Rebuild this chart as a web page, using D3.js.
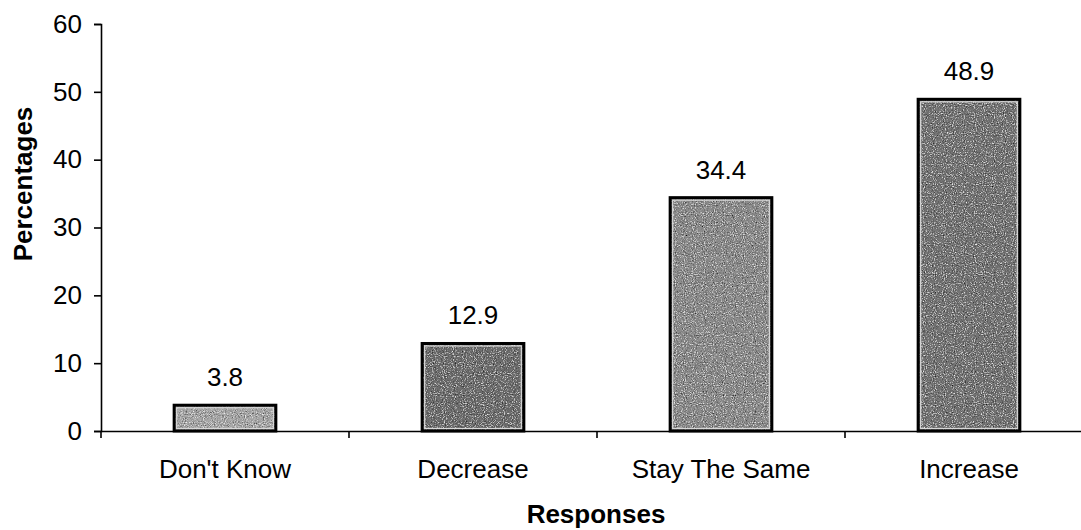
<!DOCTYPE html>
<html>
<head>
<meta charset="utf-8">
<script src="https://cdn.jsdelivr.net/npm/d3@7"></script>
<style>
  html, body { margin: 0; padding: 0; background: #fff; }
  svg { display: block; font-family: "Liberation Sans", Arial, sans-serif; }
</style>
</head>
<body>
<svg id="chart" width="1081" height="530"></svg>
<script>
// Survey responses (percent of respondents)
const categories = ["Don't Know", "Decrease", "Stay The Same", "Increase"];
const values = [3.8, 12.9, 34.4, 48.9];
const yTicks = [0, 10, 20, 30, 40, 50, 60];
const barTones = ["#a8a8a8", "#6e6e6e", "#8c8c8c", "#747474"];

const svg = d3.select("#chart");
const plotLeft = 101, plotRight = 1093, plotTop = 24, plotBottom = 431;
const fontSize = 26;

const x = d3.scaleBand().domain(categories).range([plotLeft, plotRight]).padding(0);
const y = d3.scaleLinear().domain([0, 60]).range([plotBottom, plotTop]);
const barW = x.bandwidth() * 0.41;

// grainy halftone fill used inside the bars: dark and light speckles
const defs = svg.append("defs");
const f = defs.append("filter").attr("id", "grain")
  .attr("x", 0).attr("y", 0).attr("width", 1).attr("height", 1);
f.append("feTurbulence").attr("type", "fractalNoise")
  .attr("baseFrequency", 0.9).attr("numOctaves", 2).attr("seed", 7).attr("result", "noise");
f.append("feColorMatrix").attr("in", "noise").attr("type", "matrix")
  .attr("values", "0 0 0 0 0  0 0 0 0 0  0 0 0 0 0  0 0 0 -2.4 1.2")
  .attr("result", "darkDots");
f.append("feColorMatrix").attr("in", "noise").attr("type", "matrix")
  .attr("values", "0 0 0 0 1  0 0 0 0 1  0 0 0 0 1  0 0 0 2.6 -1.45")
  .attr("result", "lightDots");
f.append("feMerge").attr("result", "dots").selectAll("feMergeNode")
  .data(["darkDots", "lightDots"]).join("feMergeNode").attr("in", d => d);
f.append("feComposite").attr("in", "dots").attr("in2", "SourceGraphic")
  .attr("operator", "in").attr("result", "dotsIn");
f.append("feMerge").selectAll("feMergeNode")
  .data(["SourceGraphic", "dotsIn"]).join("feMergeNode").attr("in", d => d);

// y axis
const yAxis = svg.append("g")
  .attr("transform", `translate(${plotLeft},0)`)
  .call(d3.axisLeft(y).tickValues(yTicks).tickSize(7).tickPadding(12).tickFormat(d3.format("d")));
yAxis.select(".domain").attr("stroke", "#000").attr("stroke-width", 1.6);
yAxis.selectAll(".tick line").attr("stroke", "#000").attr("stroke-width", 1.6);
yAxis.selectAll(".tick text").attr("font-size", fontSize).attr("fill", "#000")
  .attr("font-family", "Liberation Sans, Arial, sans-serif");

// bars
const barX = (d, i) => x(categories[i]) + (x.bandwidth() - barW) / 2;
const bars = svg.append("g");
bars.selectAll("rect.fill")
  .data(values)
  .join("rect")
  .attr("class", "fill")
  .attr("x", barX)
  .attr("y", d => y(d))
  .attr("width", barW)
  .attr("height", d => y(0) - y(d))
  .attr("fill", (d, i) => barTones[i])
  .attr("filter", "url(#grain)");
// pale inner rim just inside the outline
bars.selectAll("rect.rim")
  .data(values)
  .join("rect")
  .attr("class", "rim")
  .attr("x", (d, i) => barX(d, i) + 2.5)
  .attr("y", d => y(d) + 2.5)
  .attr("width", barW - 5)
  .attr("height", d => Math.max(0, y(0) - y(d) - 5))
  .attr("fill", "none")
  .attr("stroke", "#d8d8d8")
  .attr("stroke-width", 1.2);
bars.selectAll("rect.edge")
  .data(values)
  .join("rect")
  .attr("class", "edge")
  .attr("x", barX)
  .attr("y", d => y(d))
  .attr("width", barW)
  .attr("height", d => y(0) - y(d))
  .attr("fill", "none")
  .attr("stroke", "#000")
  .attr("stroke-width", 3);

// x axis
const xAxis = svg.append("g")
  .attr("transform", `translate(0,${plotBottom})`)
  .call(d3.axisBottom(x).tickSize(0).tickPadding(29));
xAxis.select(".domain").attr("stroke", "#000").attr("stroke-width", 1.6);
xAxis.selectAll(".tick text").attr("font-size", fontSize).attr("fill", "#000")
  .attr("font-family", "Liberation Sans, Arial, sans-serif");
xAxis.selectAll("line.sep")
  .data(categories.map(c => x(c)).concat([plotRight]))
  .join("line")
  .attr("class", "sep")
  .attr("x1", d => d).attr("x2", d => d)
  .attr("y1", 0).attr("y2", 7)
  .attr("stroke", "#000").attr("stroke-width", 1.6);

// value labels
svg.append("g").selectAll("text")
  .data(values)
  .join("text")
  .attr("x", (d, i) => x(categories[i]) + x.bandwidth() / 2)
  .attr("y", d => y(d) - 19)
  .attr("text-anchor", "middle")
  .attr("font-size", fontSize)
  .text(d => d3.format(".1f")(d));

// axis titles
svg.append("text")
  .attr("x", (plotLeft + plotRight) / 2 - 1)
  .attr("y", 523)
  .attr("text-anchor", "middle")
  .attr("font-size", fontSize)
  .attr("font-weight", "bold")
  .text("Responses");
svg.append("text")
  .attr("transform", "translate(32,184) rotate(-90)")
  .attr("text-anchor", "middle")
  .attr("font-size", fontSize)
  .attr("font-weight", "bold")
  .text("Percentages");
</script>
</body>
</html>
